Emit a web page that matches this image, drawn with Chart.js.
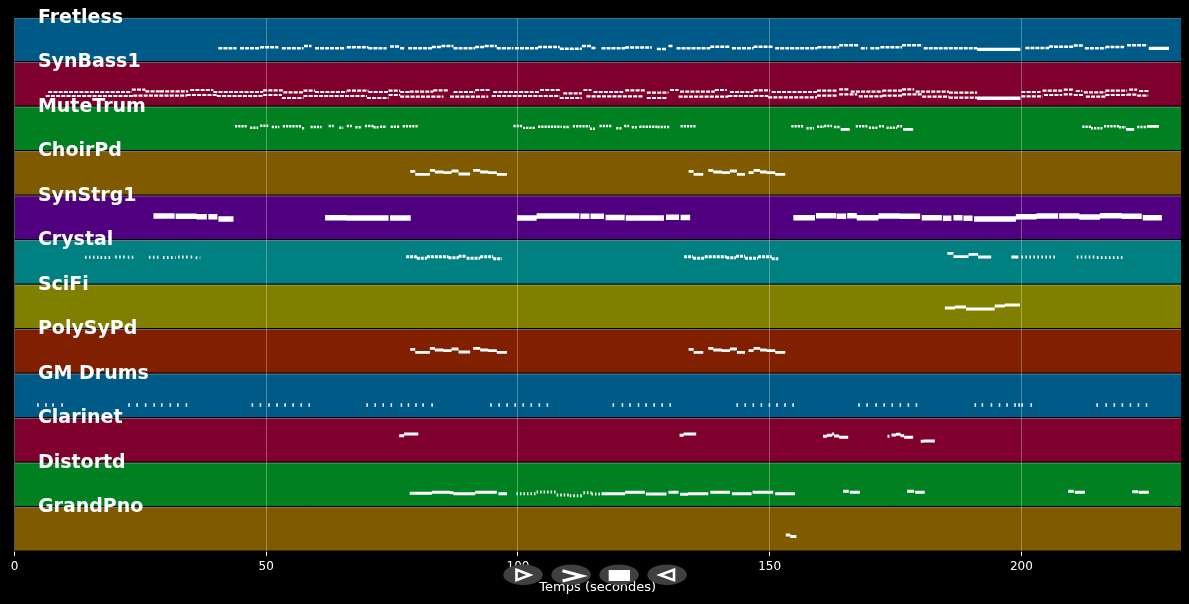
<!DOCTYPE html>
<html>
<head>
<meta charset="utf-8">
<style>
  html, body { margin: 0; padding: 0; background: #000; overflow: hidden; }
  canvas { display: block; }
</style>
<script src="https://cdn.jsdelivr.net/npm/chart.js@4/dist/chart.umd.min.js"></script>
</head>
<body>
<canvas id="roll" width="1189" height="604"></canvas>
<script>
// note lists are [start seconds, end seconds, pitch height inside the track]
const trackNames = ['Fretless', 'SynBass1', 'MuteTrum', 'ChoirPd', 'SynStrg1', 'Crystal', 'SciFi', 'PolySyPd', 'GM Drums', 'Clarinet', 'Distortd', 'GrandPno'];
const trackColors = ['#005a87', '#80002d', '#008021', '#805a00', '#50007f', '#008080', '#808000', '#802000', '#005a87', '#80002d', '#008021', '#805a00'];
const xTicks = [0, 50, 100, 150, 200];
const xMax = 231.7;
const rowSpan = 44.5;

const fretlessNotes = [[40.5,44.1,14.2],[44.8,48.8,14.2],[48.8,52.4,15.2],[53.1,57.4,14.2],[57.5,59,16.5],[59.7,65.7,14.2],[66,70.3,15.2],[70.3,73.9,14.2],[74.6,76.6,16],[76.6,77.5,14.2],[78.2,82.9,14.2],[82.9,84.8,15.5],[84.8,87.2,16.5],[87.2,91.5,14.2],[91.5,93.4,15.5],[93.4,95.8,16.5],[95.8,99.1,14.2],[99.4,104,14.2],[104,108.3,15.5],[108.3,112.7,13.8],[112.7,114.6,16.5],[114.6,115.6,14.5],[116.6,121.3,14.2],[121.3,126.6,15],[127.6,129.5,13.5],[129.9,130.7,16.5],[131.5,138.2,14.2],[138.2,142.1,15.8],[142.5,146.8,14.2],[146.8,150.7,15.8],[151.1,159.5,14.2],[159.5,163.8,15.2],[163.8,167.7,17.2],[168.1,169.4,14.2],[170,172,14.2],[172,176.3,15.2],[176.3,180.3,17.2],[180.6,191.2,14.2],[200.8,205.5,14.5],[205.5,206.5,16],[206.5,210.4,15.8],[210.4,212.4,17],[212.6,216.7,14.2],[216.7,220.4,15.5],[221,225,17.2]];
const fretlessLong = [[191.2,199.8,13.2],[225.3,229.3,14.2]];

const synBassUpper = [[6.7,23.3,15],[23.3,26,17.3],[26,28.9,15.7],[28.9,34.5,15.7],[34.9,39.5,17],[39.5,49.4,15],[49.4,53.4,16.7],[53.4,57.4,14.7],[57.4,59.7,16.3],[59.7,66,15],[66,70.3,16.3],[70.3,74.3,15],[74.3,76.6,16.3],[76.6,78.5,15],[78.5,83.2,15.3],[83.2,86.2,16.7],[87.2,91.5,15],[91.5,94.4,17],[95.1,104.4,15],[104.4,108.3,17],[109,112.7,13.7],[113,114.6,17],[115,120.9,15],[121.3,125.2,16.7],[125.6,129.9,14.3],[130.2,131.9,17],[132.2,139.1,15.3],[139.1,141.5,17],[142.1,146.8,15],[146.8,150.1,16.7],[150.4,159.4,15],[159.4,163.4,16.3],[163.8,165.7,17.7],[166.1,172.4,15.3],[172.4,176.3,16.3],[176.3,178.7,17.7],[179,185.6,15.3],[185.6,191.2,14.3],[200,203.8,15],[204.2,208.1,16.3],[208.4,210.4,17.3],[210.8,212.1,16],[212.4,216.7,14.7],[216.7,221,16.3],[221.4,223,17.3],[223.4,225.3,16]];
const synBassLower = [[6.2,23.6,11],[23.6,34.2,11.3],[34.2,40.2,12],[40.2,49.4,11],[49.4,53.1,12],[53.1,57.4,9],[57.4,70,11],[70,74.3,9],[74.3,76.6,12],[76.6,85.2,10.3],[86.5,94.1,10.3],[94.8,108.3,11],[108.3,112.7,9],[113.6,124.9,10.7],[125.6,129.5,9],[131.9,141.8,10.3],[141.8,149.7,11],[149.7,159.4,9.7],[159.4,163.4,11.3],[163.8,167.4,12.7],[167.7,172.4,10.7],[172.4,176.3,11.3],[176.3,180.3,12.7],[180.3,185.6,10.3],[185.6,191.2,9.3],[200,204.2,10.7],[204.5,208.1,12],[208.4,210.1,12.7],[210.4,212.4,12],[212.8,216.7,10.3],[216.7,221,12],[221,223,12.4],[223,225.2,11.3]];
const synBassLong = [[191.2,199.8,8.7]];

const muteTrumNotes = [[43.8,46.1,25.2],[46.8,48.4,23.8],[48.8,50.4,25.8],[51.1,52.6,24.5],[53.3,57.1,25.2],[57.1,57.7,23.2],[58.8,61,24.5],[62.4,63.4,25.5],[64.5,65.3,23.8],[66,67,25.5],[67.7,69,24.2],[69.6,71.3,25.5],[71.3,72.3,24.2],[72.6,73.9,24.8],[74.7,76.6,24.8],[77.1,80.2,25.2],[99.1,101,25.5],[101,103.4,23.6],[104,108.7,24.8],[109,110.3,24.5],[110.9,114.3,25.2],[114.3,115.3,22.8],[116.2,118.6,25.5],[119.5,120.6,23.2],[121.1,122.1,25.5],[122.6,123.6,24.2],[124.1,127.6,24.8],[127.7,130.2,24.5],[132.3,135.4,25.2],[154.3,156.8,25.2],[157.3,158.8,23.2],[159.4,160.8,24.8],[160.8,162.4,25.5],[162.8,164.1,24.5],[167.1,169.4,25.2],[169.7,171.4,23.7],[171.7,172.7,25.2],[173.2,175.3,23.7],[175.3,176.3,25.2],[212.1,213.8,24.8],[213.8,216.1,23.2],[216.4,219.4,25.2],[219.4,220.8,24.2],[223,225,24.5]];
const muteTrumLong = [[164.1,165.9,22.2],[176.5,178.5,22.2],[220.8,222.4,22.2],[225,227.3,25.2]];

const choirPdNotes = [[78.6,79.6,24.7],[79.6,82.5,21.7],[82.5,83.5,25.7],[83.5,85.2,24],[85.2,86.8,23.3],[86.8,88.2,25],[88.2,90.5,22],[91.1,92.5,25.7],[92.5,94.1,24],[94.1,95.8,23.3],[95.8,97.8,21.7],[133.9,134.9,24.7],[134.9,136.8,21.7],[137.8,138.8,25.7],[138.8,140.5,24],[140.5,142.1,23.3],[142.1,143.5,25],[143.5,145.1,21.7],[145.8,146.8,23.3],[146.8,148.1,25.7],[148.1,149.4,24],[149.4,151.1,23.3],[151.1,153.1,21.7]];
const polySyPdNotes = [[78.6,79.6,24.7],[79.6,82.5,21.7],[82.5,83.5,25.7],[83.5,85.2,24],[85.2,86.8,23.3],[86.8,88.2,25],[88.2,90.5,22],[91.1,92.5,25.7],[92.5,94.1,24],[94.1,95.8,23.3],[95.8,97.8,21.7],[133.9,134.9,24.7],[134.9,136.8,21.7],[137.8,138.8,25.7],[138.8,140.5,24],[140.5,142.1,23.3],[142.1,143.5,25],[143.5,145.1,21.7],[145.8,146.8,23.3],[146.8,148.1,25.7],[148.1,149.4,24],[149.4,151.1,23.3],[151.1,153.1,21.7]];

const synStrgNotes = [[27.6,31.8,24.5],[32,36.2,24.2],[36.2,38.2,23.8],[38.5,40.3,23.8],[40.5,43.5,21.5],[61.7,65.9,22.8],[65.9,74.3,22.5],[74.6,76.6,22.5],[76.6,78.7,22.5],[99.8,103.7,22.5],[103.7,112.2,24.5],[112.4,114.2,24.3],[114.4,117.1,24.3],[117.4,121.2,23],[121.4,129,22.5],[129.4,132,23.2],[132.3,134.2,23],[154.7,159,22.8],[159.2,163.2,24.8],[163.3,165.2,24.2],[165.4,167.3,24.8],[167.3,171.6,22.8],[171.6,175.9,24.5],[175.9,179.9,24.2],[180.2,184.2,22.8],[184.4,186.1,22.2],[186.5,188.3,22.8],[188.5,190.3,22.2],[190.6,198.9,21.5],[198.9,203,23.8],[203,207.3,24.5],[207.5,211.5,24.5],[211.5,215.6,23.5],[215.6,219.9,24.8],[219.9,223.9,24.2],[224.1,227.9,22.8]];

const crystalDots = [[14,16.9,27.7],[17.1,19.5,27.5],[20,22,28],[22.5,24,27.8],[26.7,29,27.7],[29.5,32,27.5],[32.5,34.5,28],[35,35.4,28],[36,36.9,27.3],[200,207,28],[211,215,28],[215,220.3,27.6]];
const crystalNotes = [[77.8,79.9,28.3],[79.9,81.9,26.7],[81.9,86.2,28.3],[86.2,88.2,27.3],[88.2,89.8,28.7],[89.8,92.5,26.7],[92.5,95.1,28.3],[95.1,96.8,26.3],[133,134.8,28.3],[134.8,137.1,26.7],[137.1,141.4,28.3],[141.4,143.3,27.3],[143.3,145.1,28.7],[145.1,147.7,26.7],[147.7,150.4,28.3],[150.4,151.7,26.3]];
const crystalSolid = [[185.3,186.5,31.7],[186.5,189.5,28.3],[189.5,191.4,30.7],[191.4,194,28],[198,199.4,28]];

const sciFiNotes = [[184.8,186.8,21.5],[186.8,189,22.5],[189,194.7,20.5],[194.7,196.7,23.5],[196.7,199.7,24.5]];

const drumNotes = [[4.5,4.8,13.5],[6.1,6.4,13.5],[7.5,7.8,13.5],[9.3,9.6,13.5],[22.6,22.9,13.5],[24.2,24.5,13.5],[25.9,26.2,13.5],[27.6,27.9,13.5],[29.1,29.4,13.5],[30.8,31.1,13.5],[32.3,32.6,13.5],[34,34.3,13.5],[47.1,47.4,13.5],[48.7,49,13.5],[50.4,50.7,13.5],[52,52.3,13.5],[53.6,53.9,13.5],[55.2,55.5,13.5],[56.8,57.1,13.5],[58.4,58.7,13.5],[69.9,70.2,13.5],[71.5,71.8,13.5],[73.1,73.4,13.5],[74.7,75,13.5],[76.7,77,13.5],[78.1,78.4,13.5],[79.6,79.9,13.5],[81,81.3,13.5],[82.8,83.1,13.5],[94.5,94.8,13.5],[96.1,96.4,13.5],[97.7,98,13.5],[99.3,99.6,13.5],[100.9,101.2,13.5],[102.5,102.8,13.5],[104.1,104.4,13.5],[105.7,106,13.5],[118.8,119.1,13.5],[120.6,120.9,13.5],[122.1,122.4,13.5],[123.8,124.1,13.5],[125.3,125.6,13.5],[126.9,127.2,13.5],[128.5,128.8,13.5],[130.1,130.4,13.5],[143.4,143.7,13.5],[145,145.3,13.5],[146.6,146.9,13.5],[148.2,148.5,13.5],[149.8,150.1,13.5],[151.3,151.6,13.5],[152.9,153.2,13.5],[154.5,154.8,13.5],[167.6,167.9,13.5],[169.2,169.5,13.5],[171,171.3,13.5],[172.6,172.9,13.5],[174.2,174.5,13.5],[175.8,176.1,13.5],[177.4,177.7,13.5],[179,179.3,13.5],[190.7,191,13.5],[192.1,192.4,13.5],[193.9,194.2,13.5],[195.5,195.8,13.5],[197,197.3,13.5],[198.6,198.9,13.5],[199.4,199.7,13.5],[200,200.3,13.5],[201.8,202.1,13.5],[214.9,215.2,13.5],[216.7,217,13.5],[218.3,218.6,13.5],[219.9,220.2,13.5],[221.5,221.8,13.5],[223.1,223.4,13.5],[224.7,225,13.5]];

const clarinetNotes = [[76.4,77.4,27.3],[77.4,80.2,29],[132.1,132.9,27.7],[132.9,135.4,29],[160.6,161.4,26.7],[161.4,162.4,27.7],[162.4,162.8,29],[162.8,163.8,27],[163.8,165.6,25.7],[173.4,173.8,26.7],[174.2,175.1,28],[175.1,176,28.7],[176,176.7,27.3],[176.7,178.5,25.7],[180,180.6,21.7],[180.6,182.8,22]];

const distortdNotes = [[78.5,82.9,14.2],[82.9,86.5,15.2],[86.5,87.2,14.8],[87.2,91.5,13.8],[91.5,95.8,15.2],[96.1,97.8,13.8],[116.6,121.3,13.8],[121.3,125.2,15.2],[125.4,129.5,13.5],[129.9,131.9,15.2],[132.2,133.8,13.2],[133.8,137.8,13.8],[138.2,142.1,15.2],[142.5,146.4,13.8],[146.6,150.7,15.2],[151.1,155,13.8],[164.6,165.7,16.2],[165.9,167.9,15.2],[177.3,178.7,16.2],[178.9,180.8,15.2],[209.3,210.4,16.2],[210.6,212.6,15.2],[222,223.2,15.8],[223.3,225.3,15.2]];
const distortdDots = [[99.7,103.7,13.8],[103.7,107.7,15.5],[107.7,110.3,12.5],[110.3,113,11.8],[113,114.6,14.8],[114.6,116.3,13.5]];

const grandPnoNotes = [[153.2,154.1,17],[154.1,155.3,15.5]];

// track index, notes, stroke height and optional dash split
const noteLayers = [
    { row: 0, notes: fretlessNotes, width: 2.4, dash: [4, 1] },
    { row: 0, notes: fretlessLong, width: 3.2 },
    { row: 1, notes: synBassUpper, width: 2.2, dash: [4, 1.2] },
    { row: 1, notes: synBassLower, width: 2.2, dash: [4, 1.2] },
    { row: 1, notes: synBassLong, width: 3.4 },
    { row: 2, notes: muteTrumNotes, width: 2.4, dash: [2.2, 1] },
    { row: 2, notes: muteTrumLong, width: 2.8 },
    { row: 3, notes: choirPdNotes, width: 2.8 },
    { row: 4, notes: synStrgNotes, width: 5.6 },
    { row: 5, notes: crystalDots, width: 3, dash: [1.5, 2.5] },
    { row: 5, notes: crystalNotes, width: 3, dash: [3, 1] },
    { row: 5, notes: crystalSolid, width: 2.8 },
    { row: 6, notes: sciFiNotes, width: 2.8 },
    { row: 7, notes: polySyPdNotes, width: 2.8 },
    { row: 8, notes: drumNotes, width: 3.6 },
    { row: 9, notes: clarinetNotes, width: 3 },
    { row: 10, notes: distortdNotes, width: 3 },
    { row: 10, notes: distortdDots, width: 3, dash: [1.5, 2] },
    { row: 11, notes: grandPnoNotes, width: 3 }
];

function rowBase(row) {
    return (trackNames.length - 1 - row) * rowSpan;
}

function notePoints(row, notes) {
    const points = [];
    notes.forEach(n => {
        points.push({ x: n[0], y: rowBase(row) + n[2] });
        points.push({ x: n[1], y: rowBase(row) + n[2] });
        points.push({ x: n[1], y: null });
    });
    return points;
}

// each track's band is a flat line along its top, filled down to the gap
const bandSets = trackNames.map((name, row) => ({
    label: name,
    data: [{ x: 0, y: rowBase(row) + rowSpan }, { x: xMax, y: rowBase(row) + rowSpan }],
    borderColor: 'rgba(255,255,255,0.35)',
    borderWidth: 1,
    backgroundColor: trackColors[row],
    fill: { value: rowBase(row) + 1.5 },
    pointRadius: 0,
    order: 2
}));

const noteSets = noteLayers.map(layer => ({
    label: trackNames[layer.row],
    data: notePoints(layer.row, layer.notes),
    borderColor: '#fff',
    borderWidth: layer.width,
    borderDash: layer.dash || [],
    borderCapStyle: 'butt',
    spanGaps: false,
    fill: false,
    pointRadius: 0,
    order: 1
}));

function drawTriangle(ctx, tipX, baseX, midY, halfH) {
    ctx.beginPath();
    ctx.moveTo(baseX, midY - halfH);
    ctx.lineTo(tipX, midY);
    ctx.lineTo(baseX, midY + halfH);
    ctx.closePath();
    ctx.stroke();
}

const overlayPlugin = {
    id: 'overlay',
    afterDraw(chart) {
        const ctx = chart.ctx;
        const x = chart.scales.x;
        const y = chart.scales.y;
        ctx.save();

        ctx.fillStyle = '#fff';
        ctx.font = 'bold 19px "DejaVu Sans"';
        ctx.textAlign = 'left';
        ctx.textBaseline = 'middle';
        trackNames.forEach((name, row) => {
            ctx.fillText(name, x.getPixelForValue(4.65), y.getPixelForValue(rowBase(row) + rowSpan));
        });

        // player buttons over the axis
        [523, 571, 619, 667].forEach(cx => {
            ctx.fillStyle = '#404040';
            ctx.beginPath();
            ctx.ellipse(cx, 574.7, 19.7, 10.3, 0, 0, Math.PI * 2);
            ctx.fill();
        });
        ctx.strokeStyle = '#fff';
        ctx.fillStyle = '#fff';
        ctx.lineWidth = 2.6;
        ctx.lineJoin = 'miter';
        drawTriangle(ctx, 530, 516.5, 575, 5.2);
        ctx.lineWidth = 3;
        ctx.beginPath();
        ctx.moveTo(562.5, 570.8);
        ctx.lineTo(582, 576);
        ctx.lineTo(562.5, 581);
        ctx.stroke();
        ctx.fillRect(608.7, 570, 21.3, 11);
        ctx.lineWidth = 2.6;
        drawTriangle(ctx, 660, 674, 575, 5.2);

        ctx.restore();
    }
};

new Chart(document.getElementById('roll').getContext('2d'), {
    type: 'line',
    data: { datasets: bandSets.concat(noteSets) },
    options: {
        responsive: false,
        animation: false,
        parsing: { xAxisKey: 'x', yAxisKey: 'y' },
        layout: { padding: { left: 14.5, right: 8, top: 18, bottom: 0 } },
        plugins: { legend: { display: false }, tooltip: { enabled: false } },
        elements: { line: { tension: 0 } },
        scales: {
            x: {
                type: 'linear',
                min: 0,
                max: xMax,
                afterFit(scale) { scale.height = 52; },
                afterBuildTicks(scale) { scale.ticks = xTicks.map(v => ({ value: v })); },
                grid: { color: 'rgba(255,255,255,0.3)', tickColor: '#fff', tickLength: 4, lineWidth: 1, z: 1 },
                border: { display: false },
                ticks: { color: '#fff', font: { family: '"DejaVu Sans"', size: 12 }, padding: 4, maxRotation: 0 },
                title: {
                    display: true,
                    text: 'Temps (secondes)',
                    color: '#fff',
                    font: { family: '"DejaVu Sans"', size: 13 },
                    padding: { top: 0, bottom: 8.7 }
                }
            },
            y: {
                type: 'linear',
                min: 0,
                max: rowSpan * trackNames.length,
                display: false
            }
        }
    },
    plugins: [overlayPlugin]
});
</script>
</body>
</html>
